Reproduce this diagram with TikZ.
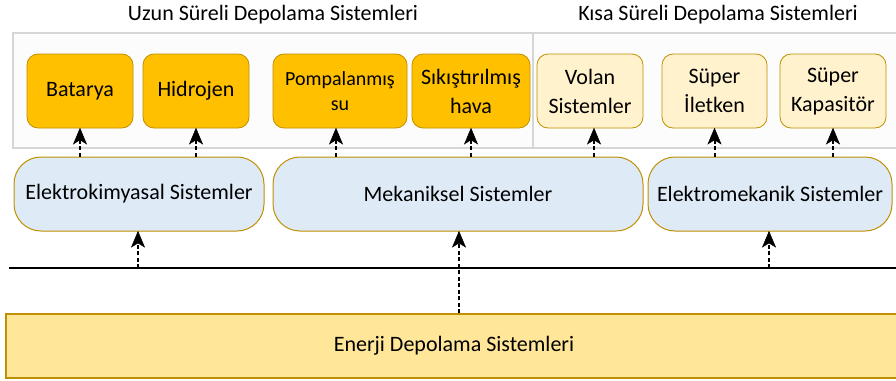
\documentclass[tikz,border=0pt]{standalone}
\usepackage{fontspec}
\setmainfont{Carlito}
\usetikzlibrary{calc}
\definecolor{longfill}{HTML}{FFC000}
\definecolor{shortfill}{HTML}{FFF2CC}
\definecolor{goldline}{HTML}{BF9000}
\definecolor{midfill}{HTML}{DEEBF7}
\definecolor{basefill}{HTML}{FFE699}
\definecolor{framegray}{HTML}{D6D6D6}
\definecolor{framefill}{HTML}{FCFCFC}
\begin{document}
\begin{tikzpicture}[x=1pt,y=-1pt,
  every node/.style={font=\fontsize{22}{29}\selectfont, text=black, inner sep=0pt, align=center},
  longbox/.style={draw=goldline, line width=0.8pt, fill=longfill, rounded corners=11pt, minimum height=74pt},
  shortbox/.style={draw=goldline, line width=0.8pt, fill=shortfill, rounded corners=11pt, minimum height=74pt},
  midbox/.style={draw=goldline, line width=1pt, fill=midfill, rounded corners=27pt, minimum height=74pt},
  linkline/.style={line width=2pt, dash pattern=on 4pt off 2.5pt, shorten >=10pt},
  linkhead/.style={fill=black, draw=black, line width=0.5pt, line join=miter}
]
\useasboundingbox (0,0) rectangle (896,380);

% group frames
\draw[framegray, line width=1.5pt, fill=framefill] (13,33) rectangle (902,148);
\draw[framegray, line width=1.2pt] (533,33) -- (533,148);

% group titles
\node (tlong) at (273,15) {Uzun Süreli Depolama Sistemleri};
\node (tshort) at (718,15) {Kısa Süreli Depolama Sistemleri};

% storage technologies
\node[longbox, minimum width=106pt] (bat) at (80,91) {Batarya};
\node[longbox, minimum width=106pt] (hid) at (196,91) {Hidrojen};
\node[longbox, minimum width=134pt, font=\fontsize{20}{25}\selectfont] (pom) at (340,91) {Pompalanmış\\su};
\node[longbox, minimum width=118pt] (sik) at (471,91) {Sıkıştırılmış\\hava};
\node[shortbox, minimum width=106pt] (vol) at (590,91) {Volan\\Sistemler};
\node[shortbox, minimum width=105pt] (ilt) at (714.5,91) {Süper\\İletken};
\node[shortbox, minimum width=106pt] (kap) at (833,91) {Süper\\Kapasitör};

% system families
\node[midbox, minimum width=250pt] (elk) at (139,194) {Elektrokimyasal Sistemler};
\node[midbox, minimum width=370pt] (mek) at (458,194) {Mekaniksel Sistemler};
\node[midbox, minimum width=244pt] (elm) at (770,194) {Elektromekanik Sistemler};

% base
\node[draw=goldline, line width=1.2pt, fill=basefill, minimum width=896pt, minimum height=64pt] (base) at (454,346) {Enerji Depolama Sistemleri};

% bus line
\coordinate (busL) at (9,268);
\coordinate (busR) at (900,268);
\draw[line width=1.8pt] (busL) -- (busR);
\coordinate (busE) at (138,268);
\coordinate (busM) at (769,268);

% upward dashed link with a solid stealth head: #1 start, #2 end
\newcommand{\linkarrow}[2]{%
  \draw[linkline] (#1) -- (#2);
  \filldraw[linkhead] (#2) -- ($(#2)+(-6.5,15.5)$) -- ($(#2)+(0,11.5)$) -- ($(#2)+(6.5,15.5)$) -- cycle;}

\coordinate (pomS) at ([xshift=-4pt]pom.south);
\coordinate (volS) at ([xshift=4pt]vol.south);
\coordinate (mekS) at ([xshift=1pt]mek.south);

\linkarrow{bat.south |- elk.north}{bat.south}
\linkarrow{hid.south |- elk.north}{hid.south}
\linkarrow{pomS |- mek.north}{pomS}
\linkarrow{sik.south |- mek.north}{sik.south}
\linkarrow{volS |- mek.north}{volS}
\linkarrow{ilt.south |- elm.north}{ilt.south}
\linkarrow{kap.south |- elm.north}{kap.south}
\coordinate (elkS) at (busE |- elk.south);
\coordinate (elmS) at (busM |- elm.south);
\linkarrow{busE}{elkS}
\linkarrow{busM}{elmS}
\linkarrow{base.north -| mekS}{mekS}
\end{tikzpicture}
\end{document}
